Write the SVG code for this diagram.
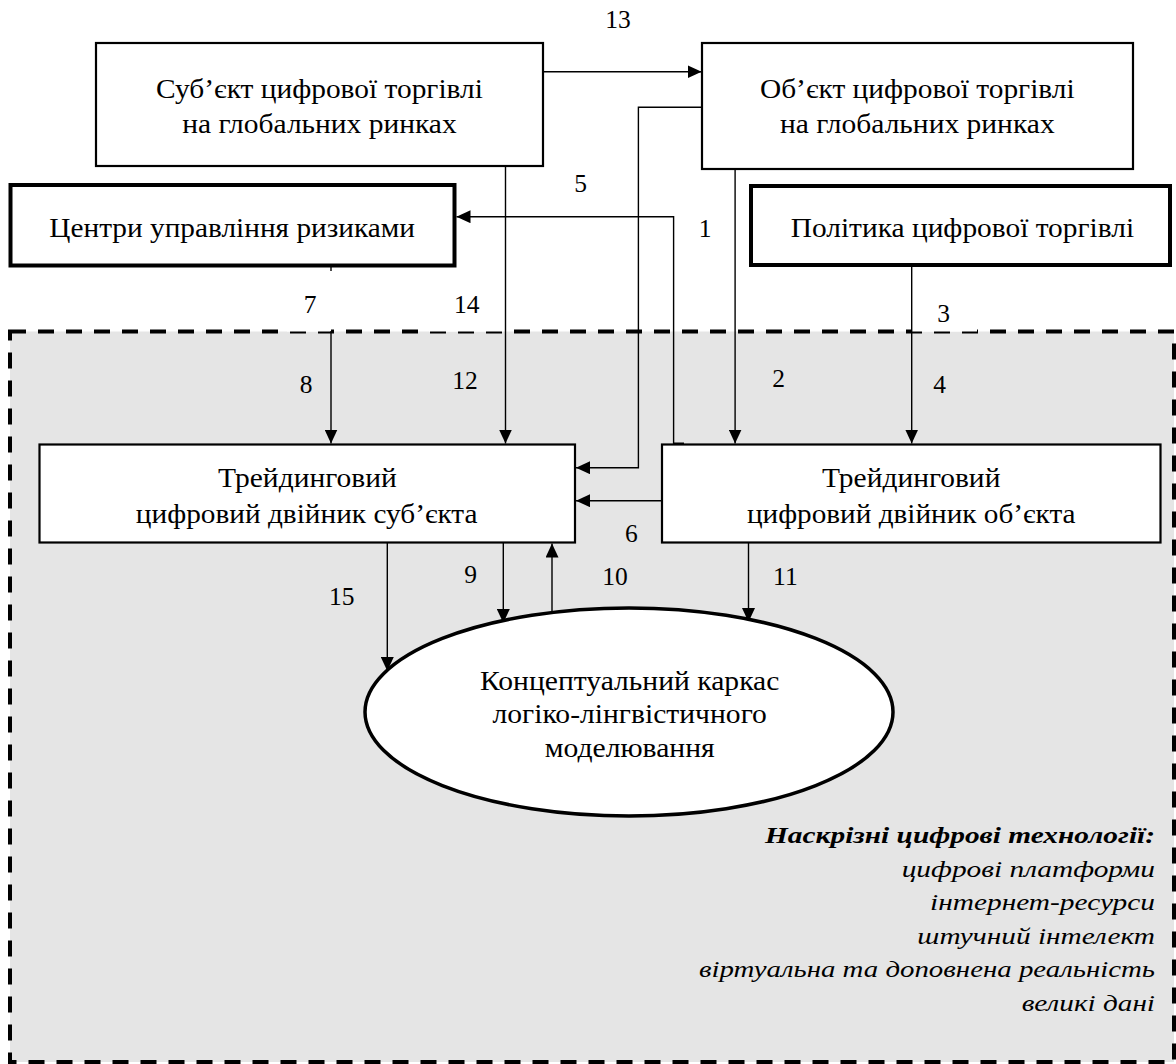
<svg xmlns="http://www.w3.org/2000/svg" width="1176" height="1064" viewBox="0 0 1176 1064">
<style>
  text { font-family: "Liberation Serif", "Times New Roman", serif; fill: #000; }
  .t { font-size: 27px; text-anchor: middle; }
  .et { font-size: 27.5px; text-anchor: middle; }
  .num { font-size: 25.5px; text-anchor: middle; }
  .box { fill: #fff; stroke: #000; stroke-width: 2.2; }
  .thick { fill: #fff; stroke: #000; stroke-width: 4; }
  .ln { fill: none; stroke: #000; stroke-width: 1.4; }
  .arr { marker-end: url(#ah); }
  .it { font-size: 24px; font-style: italic; text-anchor: end; }
  .bi { font-weight: bold; }
</style>
<defs>
  <marker id="ah" markerUnits="userSpaceOnUse" markerWidth="14" markerHeight="13" refX="14" refY="6.5" orient="auto">
    <path d="M0,0 L14,6.5 L0,13 z" fill="#000"/>
  </marker>
</defs>
<rect width="1176" height="1064" fill="#fff"/>

<g id="area">
  <rect x="10" y="331.5" width="1164" height="730.5" fill="#e5e5e5" stroke="#000" stroke-width="4" stroke-dasharray="16 12"/>
  <rect x="287" y="328" width="44" height="3.5" fill="#fff"/>
  <rect x="429" y="328" width="74" height="3.5" fill="#fff"/>
  <rect x="912" y="328" width="65" height="3.5" fill="#fff"/>
</g>

<g id="connectors">
  <path class="ln arr" d="M543.4,71.7 H701.6"/>
  <path class="ln arr" d="M701.6,107.3 H638.4 V467.7 H576"/>
  <path class="ln arr" d="M684,443.3 H673.6 V216.7 H456.5"/>
  <path class="ln arr" d="M505.5,166 V443.5"/>
  <path class="ln arr" d="M735.1,169.3 V443.5"/>
  <path class="ln arr" d="M911.7,266.7 V443.5"/>
  <path class="ln" d="M331,263 V271"/>
  <path class="ln arr" d="M331,331 V443.5"/>
  <path class="ln arr" d="M661.7,500.7 H576"/>
  <path class="ln arr" d="M387.3,542.7 V671"/>
  <path class="ln arr" d="M503.3,542.7 V623"/>
  <path class="ln arr" d="M552,612 V543.5"/>
  <path class="ln arr" d="M748.5,542.7 V622"/>
</g>

<g id="labels">
  <text class="num" x="618" y="28.3">13</text>
  <text class="num" x="580.6" y="191.7">5</text>
  <text class="num" x="705" y="237.3">1</text>
  <text class="num" x="310" y="313.3">7</text>
  <text class="num" x="466.7" y="313.3">14</text>
  <text class="num" x="943.7" y="321.7">3</text>
  <text class="num" x="306" y="393.3">8</text>
  <text class="num" x="465" y="389">12</text>
  <text class="num" x="778.5" y="387.3">2</text>
  <text class="num" x="939.6" y="392.7">4</text>
  <text class="num" x="631.3" y="541.7">6</text>
  <text class="num" x="341.7" y="605">15</text>
  <text class="num" x="470.7" y="583.3">9</text>
  <text class="num" x="615" y="585">10</text>
  <text class="num" x="785.4" y="585">11</text>
</g>

<g id="subject">
  <rect class="box" x="96" y="43" width="447" height="123"/>
  <text class="t" x="319.5" y="98.3" textLength="326.8" lengthAdjust="spacingAndGlyphs">Суб’єкт цифрової торгівлі</text>
  <text class="t" x="319.5" y="133.3" textLength="274.4" lengthAdjust="spacingAndGlyphs">на глобальних ринках</text>
</g>

<g id="object">
  <rect class="box" x="702" y="43" width="431" height="126"/>
  <text class="t" x="917.3" y="98.3" textLength="314.7" lengthAdjust="spacingAndGlyphs">Об’єкт цифрової торгівлі</text>
  <text class="t" x="917.3" y="133.3" textLength="274.8" lengthAdjust="spacingAndGlyphs">на глобальних ринках</text>
</g>

<g id="risk">
  <rect class="thick" x="10.5" y="185" width="444" height="80.5"/>
  <text class="t" x="232.2" y="236.7" textLength="365.7" lengthAdjust="spacingAndGlyphs">Центри управління ризиками</text>
</g>

<g id="policy">
  <rect class="thick" x="751" y="186" width="419" height="79"/>
  <text class="t" x="962.4" y="236.7" textLength="343.3" lengthAdjust="spacingAndGlyphs">Політика цифрової торгівлі</text>
</g>

<g id="subject-twin">
  <rect class="box" x="39.5" y="444.5" width="535.5" height="98"/>
  <text class="t" x="307.5" y="486.7" textLength="178.8" lengthAdjust="spacingAndGlyphs">Трейдинговий</text>
  <text class="t" x="306.7" y="522.7" textLength="341.7" lengthAdjust="spacingAndGlyphs">цифровий двійник суб’єкта</text>
</g>

<g id="object-twin">
  <rect class="box" x="662" y="444.5" width="498.5" height="98"/>
  <text class="t" x="911.2" y="486.7" textLength="178.4" lengthAdjust="spacingAndGlyphs">Трейдинговий</text>
  <text class="t" x="911.2" y="522.7" textLength="328.6" lengthAdjust="spacingAndGlyphs">цифровий двійник об’єкта</text>
</g>

<g id="framework">
  <ellipse cx="629" cy="712" rx="264" ry="104" fill="#fff" stroke="#000" stroke-width="3.5"/>
  <text class="et" x="629.7" y="690" textLength="299.3" lengthAdjust="spacingAndGlyphs">Концептуальний каркас</text>
  <text class="et" x="629.7" y="723.3" textLength="274.3" lengthAdjust="spacingAndGlyphs">логіко-лінгвістичного</text>
  <text class="et" x="629.7" y="756.7" textLength="170" lengthAdjust="spacingAndGlyphs">моделювання</text>
</g>

<g id="technologies">
  <text class="it bi" x="1155" y="843.3" textLength="390" lengthAdjust="spacingAndGlyphs">Наскрізні цифрові технології:</text>
  <text class="it" x="1155" y="876.8" textLength="253.3" lengthAdjust="spacingAndGlyphs">цифрові платформи</text>
  <text class="it" x="1155" y="910.3" textLength="225" lengthAdjust="spacingAndGlyphs">інтернет-ресурси</text>
  <text class="it" x="1155" y="943.8" textLength="237.7" lengthAdjust="spacingAndGlyphs">штучний інтелект</text>
  <text class="it" x="1155" y="977.3" textLength="456" lengthAdjust="spacingAndGlyphs">віртуальна та доповнена реальність</text>
  <text class="it" x="1155" y="1010.7" textLength="133.3" lengthAdjust="spacingAndGlyphs">великі дані</text>
</g>
</svg>
